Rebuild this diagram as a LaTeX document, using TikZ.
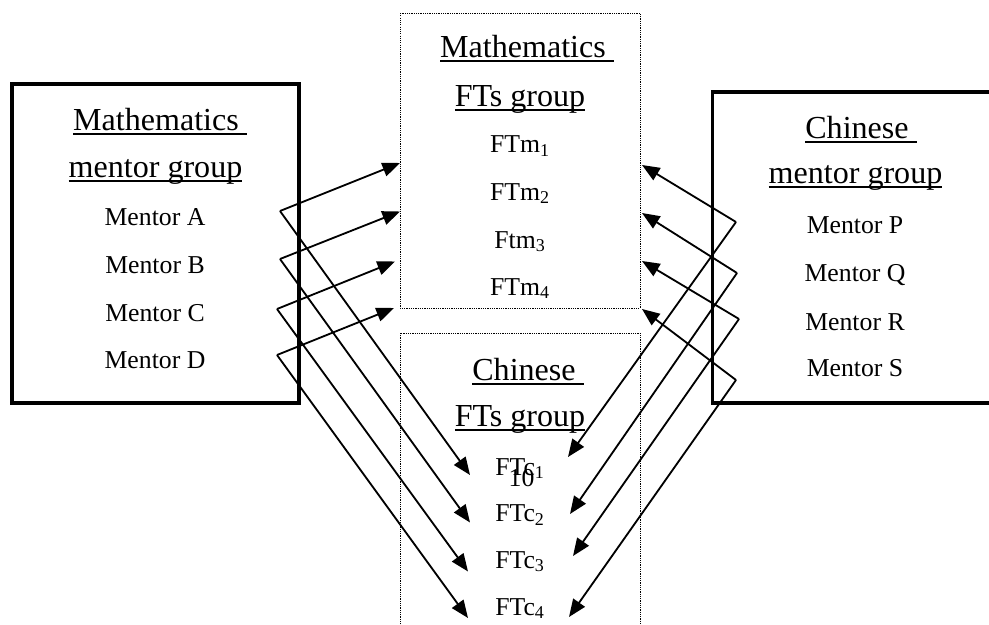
\documentclass[tikz,border=0pt]{standalone}
\usepackage{fontspec}
\setmainfont{Liberation Serif}
\usetikzlibrary{arrows.meta}

\newcommand{\undl}[1]{\setbox0=\hbox{#1}\rlap{\rule[-3.6pt]{\wd0}{1.4pt}}\box0}
\newcommand{\headfont}{\fontsize{22.8}{27}\selectfont}
\newcommand{\bodyfont}{\fontsize{18.3}{22}\selectfont}

\begin{document}
\begin{tikzpicture}
[
x=0.025cm, y=-0.025cm,
head/.style={anchor=base, inner sep=0, font=\headfont},
item/.style={anchor=base, inner sep=0, font=\bodyfont},
mentorbox/.style={draw, line width=2.8pt},
ftbox/.style={draw, line width=0.7pt, dash pattern=on 0.8pt off 0.8pt},
link/.style={line width=1.3pt, -{Triangle[length=12.5pt, width=10pt]}}
]
\useasboundingbox (0,0) rectangle (989,625);
\clip (0,0) rectangle (989,625);

% group frames
\draw[mentorbox] (12,84) rectangle (299,403);
\draw[mentorbox] (1010,92) -- (712.5,92) -- (712.5,403) -- (1010,403);
\draw[ftbox] (400,13) rectangle (640,308);
\draw[ftbox] (400,640) -- (400,333) -- (640,333) -- (640,640);

% mathematics mentor group
\node[head] (mathhd1) at (160,130) {\undl{Mathematics\ }};
\node[head] (mathhd2) at (155.5,177) {\undl{mentor group}};
\node[item] (mA) at (155,225.5) {Mentor A};
\node[item] (mB) at (155,273) {Mentor B};
\node[item] (mC) at (155,321.5) {Mentor C};
\node[item] (mD) at (155,368) {Mentor D};

% chinese mentor group
\node[head] (chnhd1) at (861,138) {\undl{Chinese\ }};
\node[head] (chnhd2) at (855.5,183) {\undl{mentor group}};
\node[item] (mP) at (855,233) {Mentor P};
\node[item] (mQ) at (855,281.5) {Mentor Q};
\node[item] (mR) at (855,330) {Mentor R};
\node[item] (mS) at (855,376.5) {Mentor S};

% mathematics FTs group
\node[head] (ftmhd1) at (527,57) {\undl{Mathematics\ }};
\node[head] (ftmhd2) at (520,106) {\undl{FTs group}};
\node[item] (ftm1) at (520,152.5) {FTm\textsubscript{1}};
\node[item] (ftm2) at (520,200) {FTm\textsubscript{2}};
\node[item] (ftm3) at (520,248) {Ftm\textsubscript{3}};
\node[item] (ftm4) at (520,295) {FTm\textsubscript{4}};

% chinese FTs group
\node[head] (ftchd1) at (528,380) {\undl{Chinese\ }};
\node[head] (ftchd2) at (520,426) {\undl{FTs group}};
\node[item] (ftc1) at (520,475) {FTc\textsubscript{1}};
\node[item] (ftc2) at (520,521.5) {FTc\textsubscript{2}};
\node[item] (ftc3) at (520,568) {FTc\textsubscript{3}};
\node[item] (ftc4) at (520,615) {FTc\textsubscript{4}};
\node[item] (pageno) at (521.5,486) {10};

% corners of the links
\coordinate (vA) at (280,211);
\coordinate (vB) at (280,259);
\coordinate (vC) at (277,309);
\coordinate (vD) at (277,355);
\coordinate (vP) at (736,222);
\coordinate (vQ) at (737,273);
\coordinate (vR) at (739,319);
\coordinate (vS) at (736,380);

% arrow ends
\coordinate (tm1) at (400,163);
\coordinate (tm2) at (400,211.5);
\coordinate (tm3) at (395,261.5);
\coordinate (tm4) at (394,308);
\coordinate (tc1) at (470,475);
\coordinate (tc2) at (470,522.5);
\coordinate (tc3) at (468,571.5);
\coordinate (tc4) at (468,618);
\coordinate (um1) at (642,165);
\coordinate (um2) at (642,213);
\coordinate (um3) at (642,261);
\coordinate (um4) at (642,309);
\coordinate (uc1) at (568,457);
\coordinate (uc2) at (570,514);
\coordinate (uc3) at (573,556);
\coordinate (uc4) at (569,617);

\draw[link] (vA) -- (tm1);
\draw[link] (vA) -- (tc1);
\draw[link] (vB) -- (tm2);
\draw[link] (vB) -- (tc2);
\draw[link] (vC) -- (tm3);
\draw[link] (vC) -- (tc3);
\draw[link] (vD) -- (tm4);
\draw[link] (vD) -- (tc4);

\draw[link] (vP) -- (um1);
\draw[link] (vP) -- (uc1);
\draw[link] (vQ) -- (um2);
\draw[link] (vQ) -- (uc2);
\draw[link] (vR) -- (um3);
\draw[link] (vR) -- (uc3);
\draw[link] (vS) -- (um4);
\draw[link] (vS) -- (uc4);
\end{tikzpicture}
\end{document}
